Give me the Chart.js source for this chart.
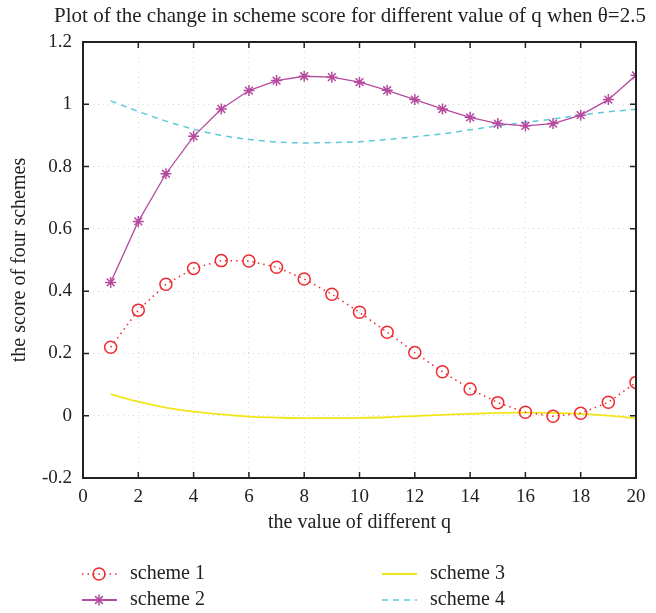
<!DOCTYPE html>
<html>
<head>
<meta charset="utf-8">
<script src="https://cdn.jsdelivr.net/npm/chart.js@4.4.0/dist/chart.umd.min.js"></script>
<style>
  html, body { margin: 0; padding: 0; background: #fff; }
  #wrap { width: 656px; height: 613px; position: relative; }
</style>
</head>
<body>
<div id="wrap"><canvas id="chart"></canvas></div>
<script>
// values
const q = [1, 2, 3, 4, 5, 6, 7, 8, 9, 10, 11, 12, 13, 14, 15, 16, 17, 18, 19, 20];
const scheme1 = [0.220, 0.339, 0.422, 0.473, 0.498, 0.497, 0.477, 0.439, 0.390, 0.332,
                 0.268, 0.203, 0.141, 0.086, 0.042, 0.011, -0.002, 0.008, 0.043, 0.107];
const scheme2 = [0.428, 0.624, 0.777, 0.897, 0.985, 1.044, 1.076, 1.090, 1.087, 1.071,
                 1.045, 1.015, 0.985, 0.958, 0.938, 0.931, 0.938, 0.965, 1.015, 1.093];
const scheme3 = [0.069, 0.045, 0.026, 0.013, 0.004, -0.003, -0.006, -0.008, -0.008, -0.007,
                 -0.005, -0.001, 0.003, 0.006, 0.009, 0.010, 0.009, 0.006, 0.000, -0.008];
const scheme4 = [1.011, 0.977, 0.946, 0.920, 0.900, 0.887, 0.879, 0.876, 0.877, 0.880,
                 0.887, 0.896, 0.905, 0.918, 0.931, 0.942, 0.953, 0.965, 0.976, 0.984];
const labels = ['scheme 1', 'scheme 2', 'scheme 3', 'scheme 4'];
const titleText = 'Plot of the change in scheme score for different value of q when θ=2.5';

const SERIF = '"Liberation Serif", "DejaVu Serif", serif';
const pts = arr => arr.map((v, i) => ({ x: q[i], y: v }));

// title centred a bit right of the canvas middle, like the original
const titlePlugin = {
  id: 'plotTitle',
  afterDraw(chart) {
    const ctx = chart.ctx;
    ctx.save();
    ctx.fillStyle = '#222';
    ctx.font = '21px ' + SERIF;
    ctx.textAlign = 'center';
    ctx.textBaseline = 'middle';
    ctx.fillText(titleText, 350, 16);
    ctx.restore();
  }
};

// frame with inward ticks on all four sides
const framePlugin = {
  id: 'frame',
  afterDraw(chart) {
    const { ctx, chartArea: a, scales: { x, y } } = chart;
    ctx.save();
    ctx.strokeStyle = '#222';
    ctx.lineWidth = 2;
    ctx.strokeRect(a.left, a.top, a.right - a.left, a.bottom - a.top);
    ctx.lineWidth = 1.5;
    ctx.beginPath();
    x.ticks.forEach(t => {
      const px = x.getPixelForValue(t.value);
      ctx.moveTo(px, a.bottom); ctx.lineTo(px, a.bottom - 6);
      ctx.moveTo(px, a.top); ctx.lineTo(px, a.top + 6);
    });
    y.ticks.forEach(t => {
      const py = y.getPixelForValue(t.value);
      ctx.moveTo(a.left, py); ctx.lineTo(a.left + 6, py);
      ctx.moveTo(a.right, py); ctx.lineTo(a.right - 6, py);
    });
    ctx.stroke();
    ctx.restore();
  }
};

// two-column legend under the axis title
const legendPlugin = {
  id: 'twoColLegend',
  afterDraw(chart) {
    const ctx = chart.ctx;
    const spots = [[82, 574], [82, 600], [382, 574], [382, 600]];
    chart.data.datasets.forEach((ds, i) => {
      const [lx, ly] = spots[i];
      ctx.save();
      ctx.strokeStyle = ds.borderColor;
      ctx.lineWidth = i === 1 ? 2 : ds.borderWidth;
      ctx.setLineDash(ds.borderDash || []);
      ctx.beginPath();
      ctx.moveTo(lx, ly); ctx.lineTo(lx + 35, ly);
      ctx.stroke();
      ctx.setLineDash([]);
      if (ds.pointRadius > 0) {
        ctx.fillStyle = ds.pointBackgroundColor;
        ctx.strokeStyle = ds.pointBorderColor;
        ctx.lineWidth = 1.5;
        Chart.helpers.drawPoint(ctx, {
          pointStyle: ds.pointStyle, radius: ds.pointRadius, borderWidth: 1.5, rotation: 0
        }, lx + 17, ly);
      }
      ctx.fillStyle = '#222';
      ctx.font = '20px ' + SERIF;
      ctx.textBaseline = 'middle';
      ctx.fillText(ds.label, lx + 48, ly);
      ctx.restore();
    });
  }
};

new Chart(document.getElementById('chart'), {
  type: 'line',
  data: {
    datasets: [
      {
        label: labels[0], data: pts(scheme1),
        borderColor: '#ee2a2f', borderWidth: 1.5, borderDash: [1.5, 4],
        pointStyle: 'circle', pointRadius: 6, pointBorderWidth: 1.5,
        pointBackgroundColor: 'rgba(0,0,0,0)', pointBorderColor: '#ee2a2f'
      },
      {
        label: labels[1], data: pts(scheme2),
        borderColor: '#b54a9f', borderWidth: 1.3,
        pointStyle: 'star', pointRadius: 5.5, pointBorderWidth: 1.5,
        pointBorderColor: '#b54a9f', pointBackgroundColor: '#b54a9f'
      },
      {
        label: labels[2], data: pts(scheme3),
        borderColor: '#f0e61a', borderWidth: 1.8,
        pointRadius: 0, cubicInterpolationMode: 'monotone'
      },
      {
        label: labels[3], data: pts(scheme4),
        borderColor: '#5ec8dc', borderWidth: 1.5, borderDash: [6, 5],
        pointRadius: 0, cubicInterpolationMode: 'monotone'
      }
    ]
  },
  options: {
    responsive: true,
    maintainAspectRatio: false,
    animation: false,
    layout: { padding: { left: 0, right: 20, top: 42, bottom: 76 } },
    plugins: {
      legend: { display: false },
      tooltip: { enabled: false },
      title: { display: false }
    },
    scales: {
      x: {
        type: 'linear', min: 0, max: 20,
        afterFit: s => { s.height = 59; },
        ticks: { stepSize: 2, color: '#222', padding: 8, maxRotation: 0,
                 font: { family: SERIF, size: 19 } },
        grid: { color: '#d8d8d8', lineWidth: 1, drawTicks: false },
        border: { display: false, dash: [1, 4] },
        title: { display: true, text: 'the value of different q', color: '#222',
                 font: { family: SERIF, size: 20 }, padding: { top: 4, bottom: 2 } }
      },
      y: {
        min: -0.2, max: 1.2,
        afterFit: s => { s.width = 83; },
        ticks: { stepSize: 0.2, color: '#222', padding: 11,
                 font: { family: SERIF, size: 19 },
                 callback: v => String(Math.round(v * 10) / 10) },
        grid: { color: '#d8d8d8', lineWidth: 1, drawTicks: false },
        border: { display: false, dash: [1, 4] },
        title: { display: true, text: 'the score of four schemes', color: '#222',
                 font: { family: SERIF, size: 20 }, padding: { top: 8, bottom: 0 } }
      }
    }
  },
  plugins: [titlePlugin, framePlugin, legendPlugin]
});
</script>
</body>
</html>
